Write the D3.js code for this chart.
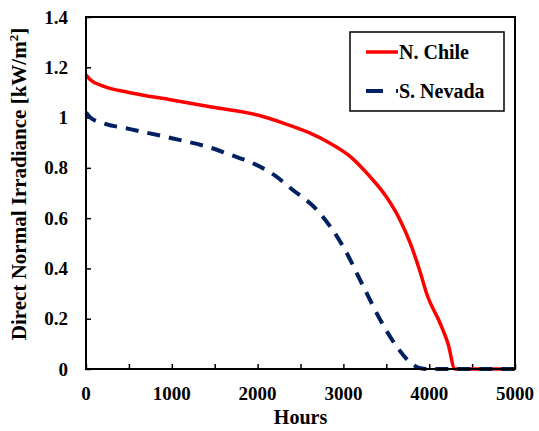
<!DOCTYPE html>
<html>
<head>
<meta charset="utf-8">
<script src="https://cdn.jsdelivr.net/npm/d3@7"></script>
<style>
  body { margin: 0; background: #fff; }
  text { font-family: "Liberation Serif", "Times New Roman", serif; font-weight: bold; fill: #000; }
</style>
</head>
<body>
<svg id="chart" width="539" height="431"></svg>
<script>
// values, hours vs kW/m2
var chileHours = [0, 50, 200, 500, 1000, 1500, 2000, 2300, 2600, 2850, 3080, 3310, 3500, 3660, 3780, 3900, 3970, 4130, 4220, 4300, 5000];
var chileDni   = [1.17, 1.15, 1.125, 1.10, 1.07, 1.04, 1.01, 0.978, 0.94, 0.897, 0.845, 0.765, 0.685, 0.593, 0.50, 0.38, 0.30, 0.18, 0.10, 0, 0];
var nevadaHours = [0, 50, 200, 500, 1000, 1500, 1700, 1900, 2200, 2400, 2700, 2850, 3000, 3230, 3430, 3620, 3800, 3900, 4000, 5000];
var nevadaDni   = [1.02, 1.0, 0.978, 0.955, 0.918, 0.875, 0.85, 0.825, 0.77, 0.715, 0.63, 0.565, 0.485, 0.33, 0.195, 0.09, 0.02, 0.003, 0, 0];
var xTicks = [0, 1000, 2000, 3000, 4000, 5000];
var xMinor = [500, 1500, 2500, 3500, 4500];
var yTicks = [0, 0.2, 0.4, 0.6, 0.8, 1, 1.2, 1.4];
var seriesNames = ["N. Chile", "S. Nevada"];

var svg = d3.select("#chart");
var plotL = 86, plotR = 515, plotT = 17, plotB = 369;

var x = d3.scaleLinear().domain([0, 5000]).range([plotL, plotR]);
var y = d3.scaleLinear().domain([0, 1.4]).range([plotB, plotT]);

function pts(hs, vs) {
    return hs.map(function(h, i) { return [h, vs[i]]; });
}

var line = d3.line()
    .x(function(d) { return x(d[0]); })
    .y(function(d) { return y(d[1]); })
    .curve(d3.curveMonotoneX);

// y ticks (inward) + labels
var yAxis = d3.axisRight(y).tickValues(yTicks).tickSize(5).tickFormat("");
svg.append("g").attr("transform", "translate(" + plotL + ",0)").call(yAxis)
    .call(function(g) { g.select(".domain").remove(); g.selectAll("line").attr("stroke-width", 1.5); });
svg.selectAll(".ylab").data(yTicks).enter().append("text")
    .attr("x", 68).attr("y", function(d) { return y(d) + 6.5; })
    .attr("text-anchor", "end").style("font-size", "19px")
    .text(function(d) { return d3.format("")(d); });

// x ticks (inward) + labels
var xAxis = d3.axisTop(x).tickValues(xTicks.concat(xMinor)).tickSize(5).tickFormat("");
svg.append("g").attr("transform", "translate(0," + plotB + ")").call(xAxis)
    .call(function(g) { g.select(".domain").remove(); g.selectAll("line").attr("stroke-width", 1.5); });
svg.selectAll(".xlab").data(xTicks).enter().append("text")
    .attr("x", function(d) { return x(d); }).attr("y", 400)
    .attr("text-anchor", "middle").style("font-size", "19px")
    .text(function(d) { return d; });

// series (blue on top, the reference shows it over the red at zero)
svg.append("path").datum(pts(chileHours, chileDni)).attr("d", line)
    .attr("fill", "none").attr("stroke", "#ff0000").attr("stroke-width", 3.5);
svg.append("path").datum(pts(nevadaHours, nevadaDni)).attr("d", line)
    .attr("fill", "none").attr("stroke", "#002060").attr("stroke-width", 4)
    .attr("stroke-dasharray", "13,9");

// frame
svg.append("rect").attr("x", plotL).attr("y", plotT)
    .attr("width", plotR - plotL).attr("height", plotB - plotT)
    .attr("fill", "none").attr("stroke", "#000").attr("stroke-width", 2);

// axis titles
svg.append("text").attr("x", (plotL + plotR) / 2).attr("y", 424)
    .attr("text-anchor", "middle").style("font-size", "20px").text("Hours");
var yt = svg.append("text").attr("transform", "translate(26,184) rotate(-90)")
    .attr("text-anchor", "middle").style("font-size", "21px");
yt.append("tspan").text("Direct Normal Irradiance [kW/m");
yt.append("tspan").attr("dy", -8).style("font-size", "13px").text("2");
yt.append("tspan").attr("dy", 8).text("]");

// legend
svg.append("rect").attr("x", 350).attr("y", 32).attr("width", 154).attr("height", 79)
    .attr("fill", "#fff").attr("stroke", "#000").attr("stroke-width", 1.5);
var legStyles = [
    { color: "#ff0000", width: 3.5, dash: null, y: 52 },
    { color: "#002060", width: 4, dash: "17,13", y: 91 }
];
seriesNames.forEach(function(name, i) {
    var s = legStyles[i];
    svg.append("line").attr("x1", 366).attr("x2", 398).attr("y1", s.y).attr("y2", s.y)
        .attr("stroke", s.color).attr("stroke-width", s.width)
        .attr("stroke-dasharray", s.dash);
    svg.append("text").attr("x", 399).attr("y", s.y + 6.5)
        .style("font-size", "20px").text(name);
});
</script>
</body>
</html>
